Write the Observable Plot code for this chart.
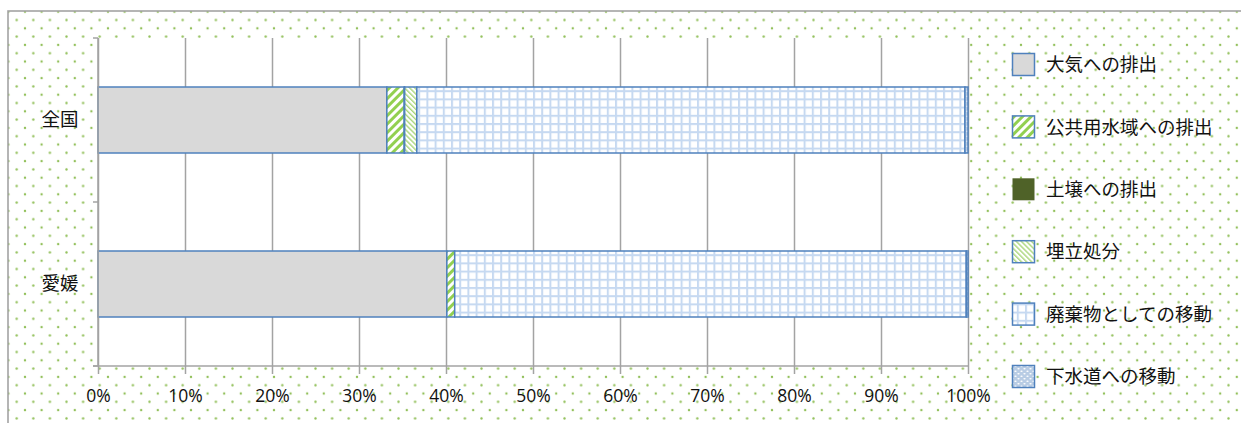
<!DOCTYPE html>
<html>
<head>
<meta charset="utf-8">
<script src="https://cdn.jsdelivr.net/npm/d3@7"></script>
<script src="https://cdn.jsdelivr.net/npm/@observablehq/plot@0.6"></script>
<style>
  html, body { margin: 0; padding: 0; background: #fff; }
  #chart svg { display: block; }
</style>
</head>
<body>
<div id="chart"></div>
<script>
// ---- data ----
const categories = ["全国", "愛媛"];
const seriesNames = ["大気への排出", "公共用水域への排出", "土壌への排出", "埋立処分", "廃棄物としての移動", "下水道への移動"];
const zenkokuValues = [33.2, 2.0, 0.05, 1.4, 63.0, 0.35];
const ehimeValues = [40.1, 0.9, 0, 0, 58.8, 0.2];
const xTicks = [0, 10, 20, 30, 40, 50, 60, 70, 80, 90, 100];
const seriesFills = ["#d9d9d9", "url(#pWide)", "#4f6228", "url(#pNarrow)", "url(#pGrid)", "url(#pDots)"];

const valuesByCat = [zenkokuValues, ehimeValues];
const rows = [];
categories.forEach((c, i) => seriesNames.forEach((s, j) => rows.push({cat: c, series: s, value: valuesByCat[i][j]})));

const gray = "#a3a3a3";
const blue = "#4f81bd";
const fontJP = "'Noto Sans CJK JP', 'Noto Sans', sans-serif";

const plot = Plot.plot({
  width: 1241,
  height: 423,
  marginLeft: 98,
  marginRight: 273,
  marginTop: 38,
  marginBottom: 57,
  x: {domain: [0, 100]},
  y: {domain: categories, paddingInner: 0.6, paddingOuter: 0.3},
  color: {domain: seriesNames, range: seriesFills},
  style: {fontFamily: fontJP, background: "transparent", color: "#111"},
  marks: [
    Plot.frame({fill: "white", stroke: null}),
    Plot.gridX({ticks: xTicks, stroke: gray, strokeOpacity: 1, strokeWidth: 1.5}),
    Plot.barX(rows, Plot.stackX({x: "value", y: "cat", fill: "series", order: seriesNames, stroke: blue, strokeWidth: 1.5})),
    Plot.axisX({ticks: xTicks, tickFormat: d => d + "%", tickSize: 8, tickPadding: 15, fontSize: 17.5, stroke: gray, strokeWidth: 1.5, fill: "#111", label: null, fontFamily: "'Open Sans', sans-serif"}),
    Plot.axisY({tickSize: 0, tickPadding: 20, fontSize: 18.5, fill: "#111", label: null})
  ]
});

document.getElementById("chart").appendChild(plot);

// ---- decoration: patterns, background, axis lines, legend ----
const svg = d3.select(plot);
const defs = svg.insert("defs", ":first-child");

// background dots
const bgp = defs.append("pattern").attr("id", "pBg").attr("patternUnits", "userSpaceOnUse")
  .attr("x", 8.4).attr("y", 11.7).attr("width", 16.6).attr("height", 16.6);
[[0,0],[16.6,0],[0,16.6],[16.6,16.6],[8.3,8.3]].forEach(([cx, cy]) =>
  bgp.append("circle").attr("cx", cx).attr("cy", cy).attr("r", 1.2).attr("fill", "#92c05a"));

// wide "/" stripes
const pw = defs.append("pattern").attr("id", "pWide").attr("patternUnits", "userSpaceOnUse")
  .attr("width", 6).attr("height", 6).attr("patternTransform", "rotate(45)");
pw.append("rect").attr("width", 6).attr("height", 6).attr("fill", "white");
pw.append("rect").attr("width", 3).attr("height", 6).attr("fill", "#92d050");

// narrow "\" stripes
const pn = defs.append("pattern").attr("id", "pNarrow").attr("patternUnits", "userSpaceOnUse")
  .attr("width", 3.6).attr("height", 3.6).attr("patternTransform", "rotate(-45)");
pn.append("rect").attr("width", 3.6).attr("height", 3.6).attr("fill", "white");
pn.append("rect").attr("width", 1.4).attr("height", 3.6).attr("fill", "#a9d67a");

// grid
const pg = defs.append("pattern").attr("id", "pGrid").attr("patternUnits", "userSpaceOnUse")
  .attr("width", 8.2).attr("height", 8.2);
pg.append("rect").attr("width", 8.2).attr("height", 8.2).attr("fill", "white");
pg.append("rect").attr("width", 8.2).attr("height", 2).attr("fill", "#c6d9f1");
pg.append("rect").attr("width", 2).attr("height", 8.2).attr("fill", "#c6d9f1");

// blue dotted
const pd = defs.append("pattern").attr("id", "pDots").attr("patternUnits", "userSpaceOnUse")
  .attr("width", 6).attr("height", 5);
pd.append("rect").attr("width", 6).attr("height", 5).attr("fill", "#b8cce4");
pd.append("ellipse").attr("cx", 1.5).attr("cy", 1.2).attr("rx", 1.2).attr("ry", 0.7).attr("fill", "white");
pd.append("ellipse").attr("cx", 4.5).attr("cy", 3.7).attr("rx", 1.2).attr("ry", 0.7).attr("fill", "white");

// background behind everything (after defs)
const bg = svg.insert("g", "defs + *");
bg.append("rect").attr("x", 8).attr("y", 11).attr("width", 1400).attr("height", 600)
  .attr("fill", "url(#pBg)").attr("stroke", gray).attr("stroke-width", 1.6);

// axis lines and category boundary ticks
const xs = plot.scale("x"), ys = plot.scale("y");
const x0 = xs.apply(0), x1 = xs.apply(100);
const step = ys.step, bw = ys.bandwidth;
const yTop = ys.apply(categories[0]) - (step - bw) / 2;
const boundaries = d3.range(categories.length + 1).map(i => yTop + i * step);
const yBottom = boundaries[boundaries.length - 1];
const ax = svg.append("g").attr("stroke", gray).attr("stroke-width", 1.5).attr("fill", "none");
ax.append("line").attr("x1", x0).attr("x2", x0).attr("y1", yTop).attr("y2", yBottom);
ax.append("line").attr("x1", x0 - 5).attr("x2", x1).attr("y1", yBottom).attr("y2", yBottom);
boundaries.forEach(b => ax.append("line").attr("x1", x0 - 5).attr("x2", x0).attr("y1", b).attr("y2", b));

// legend
const lg = svg.append("g").attr("font-family", fontJP).attr("font-size", 18.5).attr("fill", "#111")
  .attr("text-anchor", "start");
seriesNames.forEach((s, i) => {
  const cy = 64.5 + i * 62.4;
  lg.append("rect").attr("x", 1012.5).attr("y", cy - 11).attr("width", 22).attr("height", 22)
    .attr("fill", seriesFills[i]).attr("stroke", i === 2 ? "none" : blue).attr("stroke-width", 1.5);
  lg.append("text").attr("x", 1046).attr("y", cy).attr("dy", "0.36em").attr("text-anchor", "start").text(s);
});
</script>
</body>
</html>
